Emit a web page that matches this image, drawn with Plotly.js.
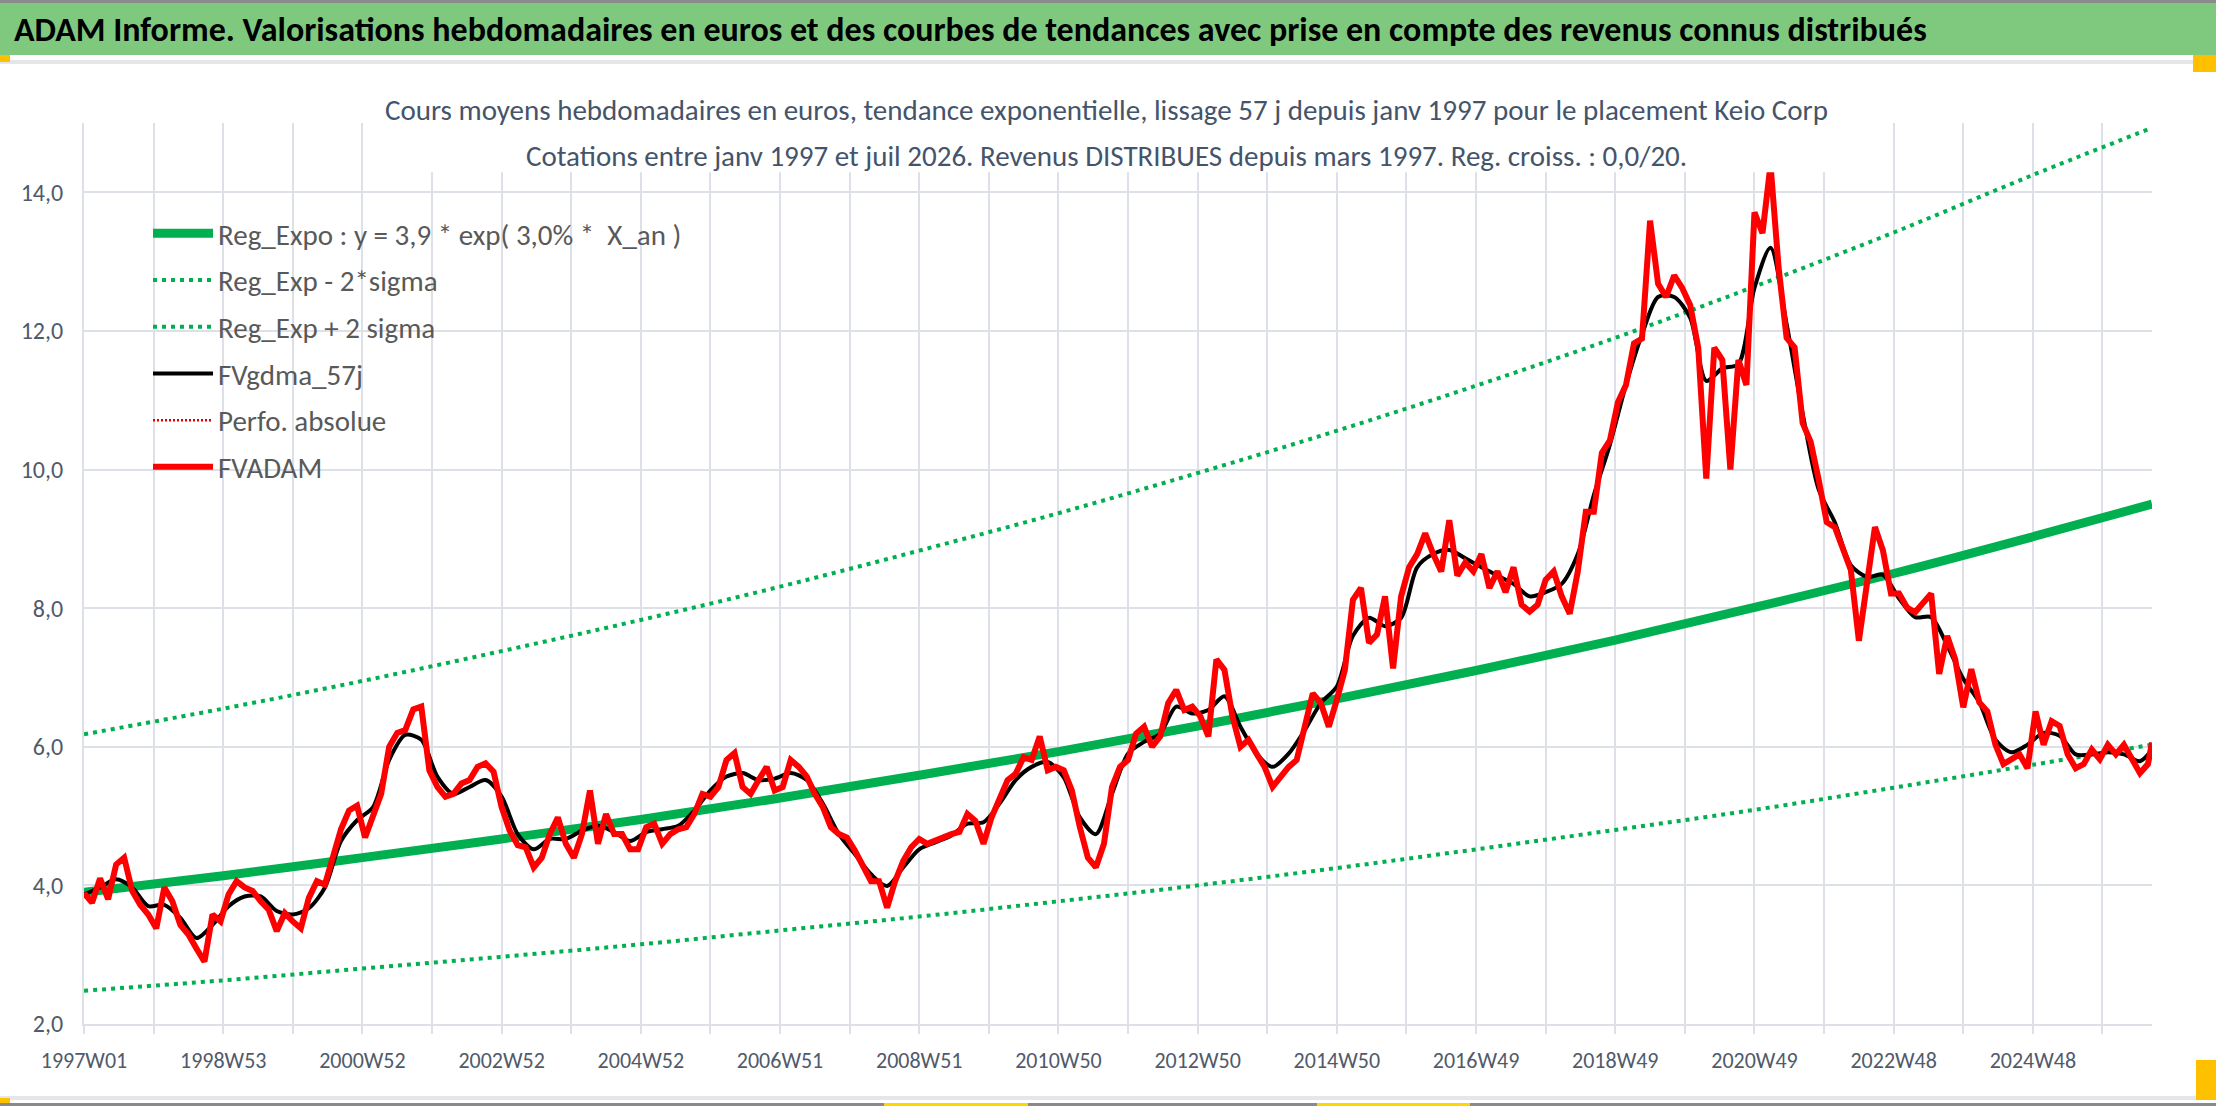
<!DOCTYPE html>
<html>
<head>
<meta charset="utf-8">
<script src="https://cdn.plot.ly/plotly-3.0.1.min.js"></script>
<style>
  body { margin: 0; background: #ffffff; }
  #chart { width: 2216px; height: 1106px; }
</style>
</head>
<body>
<div id="chart"></div>
<script>
// x axis = week index since 1997W01 (one category per week)
var lastWeek = 1545;
var gridWeeks = [0, 52, 104, 156, 208, 260, 312, 364, 416, 468, 520, 572, 624, 676, 728, 780,
                 832, 884, 936, 988, 1040, 1092, 1144, 1196, 1248, 1300, 1352, 1404, 1456, 1508];
var gridLabels = ['1997W01', '', '1998W53', '', '2000W52', '', '2002W52', '', '2004W52', '',
                  '2006W51', '', '2008W51', '', '2010W50', '', '2012W50', '', '2014W50', '',
                  '2016W49', '', '2018W49', '', '2020W49', '', '2022W48', '', '2024W48', ''];

// trend curves, read every 104 weeks
var trendWeeks = [0, 104, 208, 312, 416, 520, 624, 728, 832, 936, 1040, 1144, 1248, 1352, 1456, 1545];
var regExpo  = [3.90, 4.14, 4.40, 4.67, 4.95, 5.26, 5.59, 5.93, 6.30, 6.69, 7.10, 7.54, 8.01, 8.50, 9.03, 9.50];
var regLow   = [2.48, 2.63, 2.80, 2.97, 3.15, 3.35, 3.55, 3.77, 4.00, 4.25, 4.52, 4.80, 5.09, 5.41, 5.74, 6.03];
var regHigh  = [6.18, 6.55, 6.95, 7.38, 7.83, 8.31, 8.83, 9.37, 9.95, 10.56, 11.21, 11.90, 12.64, 13.42, 14.25, 14.93];

// FVADAM weekly valuation, read every 6 weeks (last point = last week)
var adamStep = 6;
var fvadam = [
  3.89, 3.75, 4.10, 3.80, 4.30, 4.40, 3.92, 3.72, 3.58, 3.38, 3.97, 3.77, 3.43, 3.29, 3.09, 2.90,
  3.58, 3.48, 3.87, 4.06, 3.97, 3.92, 3.77, 3.65, 3.34, 3.60, 3.48, 3.38, 3.82, 4.06, 4.01, 4.45,
  4.81, 5.08, 5.15, 4.69, 5.03, 5.32, 6.00, 6.20, 6.24, 6.54, 6.58, 5.66, 5.42, 5.28, 5.32, 5.47,
  5.52, 5.71, 5.76, 5.64, 5.13, 4.79, 4.58,
  4.55, 4.26, 4.40, 4.74, 4.98, 4.60, 4.40, 4.74, 5.37, 4.60, 5.03, 4.74, 4.74, 4.52, 4.52, 4.84,
  4.89, 4.60, 4.74, 4.81, 4.84, 5.03, 5.32, 5.28, 5.42, 5.81, 5.91, 5.42, 5.32, 5.52, 5.71, 5.37,
  5.42, 5.81, 5.71, 5.57, 5.32, 5.13, 4.84, 4.74, 4.69, 4.50, 4.26, 4.06, 4.06, 3.68, 4.06, 4.35,
  4.55, 4.67, 4.60, 4.65,
  4.69, 4.74, 4.77, 5.03, 4.93, 4.60, 4.98, 5.23, 5.52, 5.61, 5.85, 5.81, 6.15, 5.66, 5.71, 5.66,
  5.37, 4.84, 4.40, 4.26, 4.60, 5.42, 5.71, 5.81, 6.19, 6.29, 6.00, 6.15, 6.63, 6.82, 6.53, 6.58,
  6.44, 6.15, 7.26, 7.11, 6.44, 6.00, 6.10, 5.90, 5.71, 5.42, 5.56, 5.71, 5.81, 6.34, 6.77, 6.63,
  6.29, 6.68, 7.11, 8.12,
  8.29, 7.50, 7.62, 8.17, 7.13, 8.17, 8.59, 8.78, 9.08, 8.78, 8.53, 9.27, 8.47, 8.66, 8.53, 8.78,
  8.29, 8.53, 8.23, 8.59, 8.05, 7.95, 8.05, 8.41, 8.53, 8.17, 7.92, 8.53, 9.39, 9.39, 10.24, 10.42,
  10.97, 11.22, 11.82, 11.89, 13.59, 12.68, 12.49, 12.80, 12.62, 12.37, 11.76, 9.87, 11.76, 11.58,
  10.00, 11.58, 11.22, 13.71, 13.41, 14.40,
  12.92, 11.90, 11.76, 10.67, 10.40, 9.85, 9.24, 9.17, 8.83, 8.55, 7.53, 8.28, 9.17, 8.83, 8.21,
  8.21, 8.01, 7.94, 8.08, 8.21, 7.05, 7.60, 7.26, 6.57, 7.12, 6.64, 6.51, 6.03, 5.75, 5.82, 5.89,
  5.69, 6.51, 6.03, 6.37, 6.30, 5.89, 5.69, 5.75, 5.96, 5.82, 6.03, 5.89, 6.03, 5.82, 5.62, 5.75,
  6.06
];

// FVgdma_57j smoothed curve, read every 12 weeks (last point = last week)
var gdmaStep = 12;
var fvgdma = [
  3.87, 3.97, 4.09, 3.97, 3.70, 3.72, 3.53, 3.24, 3.43, 3.70, 3.84, 3.84, 3.63, 3.58, 3.67, 3.97,
  4.64, 4.94, 5.13, 5.81, 6.17, 6.10, 5.57, 5.32, 5.42, 5.52, 5.28, 4.74, 4.52, 4.67, 4.67, 4.79,
  4.86, 4.77, 4.64, 4.77, 4.81, 4.86, 5.08, 5.37, 5.57, 5.62, 5.52, 5.54, 5.62, 5.52, 5.18, 4.74,
  4.45, 4.16, 3.99, 4.26, 4.52, 4.62, 4.72, 4.89, 4.91, 5.18, 5.52, 5.71, 5.78, 5.56, 4.98, 4.74,
  5.32, 5.90, 6.07, 6.19, 6.58, 6.48, 6.53, 6.73, 6.29, 5.90, 5.71, 5.90, 6.24, 6.63, 6.87, 7.60,
  7.86, 7.74, 7.86, 8.59, 8.78, 8.84, 8.72, 8.59, 8.47, 8.35, 8.17, 8.23, 8.35, 8.78, 9.63, 10.36,
  11.22, 11.95, 12.49, 12.49, 12.19, 11.28, 11.46, 11.52, 12.62, 13.20, 12.10, 10.81, 9.71, 9.24,
  8.62, 8.45, 8.48, 8.14, 7.87, 7.87, 7.46, 6.98, 6.64, 6.10, 5.92, 6.03, 6.20, 6.16, 5.89, 5.89,
  5.92, 5.89, 5.79, 5.96
];

var yTicks = [2, 4, 6, 8, 10, 12, 14];

function weeksFor(values, step) {
  return values.map(function (v, i) { return Math.min(i * step, lastWeek); });
}

var green = '#00b050';
var font = 'Carlito, "Open Sans", Lato, sans-serif';

// px -> paper helpers for the frame decorations (plot area 84..2152 x 123..1024)
function px(x) { return (x - 84) / 2068; }
function py(y) { return (1024 - y) / 901; }

var traces = [
  { x: trendWeeks, y: regExpo, mode: 'lines', name: 'Reg_Expo : y = 3,9 * exp( 3,0% *  X_an )',
    line: { color: green, width: 9, shape: 'spline' }, legendgroup: 'a' },
  { x: trendWeeks, y: regLow, mode: 'lines', name: 'Reg_Exp - 2*sigma',
    line: { color: green, width: 4, dash: '4px,5px', shape: 'spline' }, legendgroup: 'b' },
  { x: trendWeeks, y: regHigh, mode: 'lines', name: 'Reg_Exp + 2 sigma',
    line: { color: green, width: 4, dash: '4px,5px', shape: 'spline' }, legendgroup: 'c' },
  { x: weeksFor(fvgdma, gdmaStep), y: fvgdma, mode: 'lines', name: 'FVgdma_57j',
    line: { color: '#000000', width: 4, shape: 'spline', smoothing: 0.8 }, legendgroup: 'd' },
  { x: [0], y: [null], mode: 'lines', name: 'Perfo. absolue',
    line: { color: '#e00000', width: 2.5, dash: '2px,2px' }, legendgroup: 'e' },
  { x: weeksFor(fvadam, adamStep), y: fvadam, mode: 'lines', name: 'FVADAM',
    line: { color: '#ff0000', width: 6 }, legendgroup: 'f' }
];

var shapes = [
  // green banner + frame lines
  { type: 'rect', xref: 'paper', yref: 'paper', x0: px(0), x1: px(2216), y0: py(55), y1: py(3),
    fillcolor: '#7fc97f', line: { width: 0 } },
  { type: 'rect', xref: 'paper', yref: 'paper', x0: px(0), x1: px(2216), y0: py(3), y1: py(0),
    fillcolor: '#8a8a8a', line: { width: 0 } },
  { type: 'rect', xref: 'paper', yref: 'paper', x0: px(0), x1: px(2216), y0: py(64), y1: py(60),
    fillcolor: '#e4e6ea', line: { width: 0 } },
  { type: 'rect', xref: 'paper', yref: 'paper', x0: px(0), x1: px(2216), y0: py(1100), y1: py(1096),
    fillcolor: '#e4e6ea', line: { width: 0 } },
  { type: 'rect', xref: 'paper', yref: 'paper', x0: px(0), x1: px(2216), y0: py(1106), y1: py(1103),
    fillcolor: '#8a8a8a', line: { width: 0 } },
  { type: 'rect', xref: 'paper', yref: 'paper', x0: px(0), x1: px(10), y0: py(62), y1: py(55),
    fillcolor: '#ffc000', line: { width: 0 } },
  { type: 'rect', xref: 'paper', yref: 'paper', x0: px(2193), x1: px(2216), y0: py(72), y1: py(55),
    fillcolor: '#ffc000', line: { width: 0 } },
  { type: 'rect', xref: 'paper', yref: 'paper', x0: px(2196), x1: px(2216), y0: py(1100), y1: py(1060),
    fillcolor: '#ffc000', line: { width: 0 } },
  { type: 'rect', xref: 'paper', yref: 'paper', x0: px(0), x1: px(10), y0: py(1103), y1: py(1098),
    fillcolor: '#ffc000', line: { width: 0 } },
  { type: 'rect', xref: 'paper', yref: 'paper', x0: px(884), x1: px(1028), y0: py(1106), y1: py(1103),
    fillcolor: '#ffd700', line: { width: 0 } },
  { type: 'rect', xref: 'paper', yref: 'paper', x0: px(1317), x1: px(1470), y0: py(1106), y1: py(1103),
    fillcolor: '#ffd700', line: { width: 0 } },
  // white title box lying over the top of the plot area
  { type: 'rect', xref: 'paper', yref: 'y', x0: px(400), x1: px(1860), y0: 14.29, y1: 15.2,
    fillcolor: '#ffffff', line: { width: 0 }, layer: 'above' }
];

var annotations = [
  { xref: 'paper', yref: 'paper', x: px(1106), y: py(110), xanchor: 'center', yanchor: 'middle',
    showarrow: false, font: { family: font, size: 29, color: '#44546a' },
    text: 'Cours moyens hebdomadaires en euros, tendance exponentielle, lissage 57 j depuis janv 1997 pour le placement Keio Corp' },
  { xref: 'paper', yref: 'paper', x: px(1106), y: py(156), xanchor: 'center', yanchor: 'middle',
    showarrow: false, font: { family: font, size: 29, color: '#44546a' },
    text: 'Cotations entre janv 1997 et juil 2026. Revenus DISTRIBUES depuis mars 1997. Reg. croiss. : 0,0/20.' }
];

var layout = {
  width: 2216,
  height: 1106,
  paper_bgcolor: '#ffffff',
  plot_bgcolor: '#ffffff',
  separators: ', ',
  margin: { l: 84, r: 64, t: 123, b: 82, pad: 0 },
  title: {
    text: '<b>ADAM Informe. Valorisations hebdomadaires en euros et des courbes de tendances avec prise en compte des revenus connus distribués</b>',
    xref: 'container', yref: 'container', x: 14 / 2216, xanchor: 'left',
    y: 1 - 29 / 1106, yanchor: 'middle',
    font: { family: font, size: 34, color: '#000000' }
  },
  xaxis: {
    range: [0, lastWeek],
    tickmode: 'array', tickvals: gridWeeks, ticktext: gridLabels,
    showgrid: true, gridcolor: '#dde1e7', gridwidth: 2,
    showline: true, linecolor: '#dde1e7', linewidth: 2,
    ticks: 'outside', ticklen: 8, tickcolor: '#dde1e7', tickwidth: 2,
    ticklabelstandoff: 8,
    tickfont: { family: font, size: 22, color: '#505a6a' },
    zeroline: false, fixedrange: true
  },
  yaxis: {
    range: [2, 15],
    tickmode: 'array', tickvals: yTicks, tickformat: '.1f',
    showgrid: true, gridcolor: '#dde1e7', gridwidth: 2,
    showline: true, linecolor: '#dde1e7', linewidth: 2,
    ticks: '', ticklabelstandoff: 14,
    tickfont: { family: font, size: 24, color: '#505a6a' },
    zeroline: false, fixedrange: true
  },
  showlegend: true,
  legend: {
    x: px(148), y: py(208), xanchor: 'left', yanchor: 'top',
    bgcolor: 'rgba(0,0,0,0)', borderwidth: 0,
    font: { family: font, size: 29, color: '#595959' },
    itemwidth: 60, tracegroupgap: 6, traceorder: 'grouped'
  },
  shapes: shapes,
  annotations: annotations
};

Plotly.newPlot('chart', traces, layout, { displayModeBar: false, staticPlot: true });
</script>
</body>
</html>
